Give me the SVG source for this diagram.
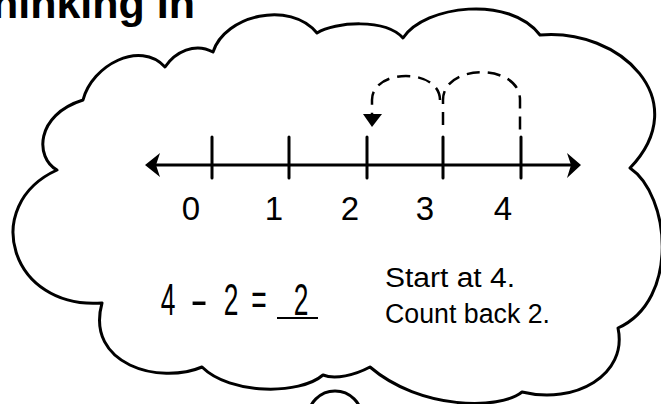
<svg xmlns="http://www.w3.org/2000/svg" width="661" height="404" viewBox="0 0 661 404">
<style>
.ink{fill:none;stroke:#000;stroke-width:3;stroke-linecap:round;stroke-linejoin:round}
.dash{fill:none;stroke:#000;stroke-width:2.5;stroke-dasharray:13 8}
.num{font-family:"Liberation Sans",Arial,sans-serif;font-size:33px;fill:#000;text-anchor:middle}
.note{font-family:"Liberation Sans",Arial,sans-serif;font-size:27px;fill:#000}
.eq{font-family:"Liberation Sans",Arial,sans-serif;font-size:44px;fill:#000;text-anchor:middle}
</style>
<rect width="661" height="404" fill="#fff"/>
<text x="195" y="18" font-family="Liberation Sans,Arial,sans-serif" font-weight="bold" font-size="43" text-anchor="end" fill="#000">Thinking In</text>
<g id="cloud">
<path class="ink" d="M57,170 C35,158 35,115 83,100 C92,65 140,40 165,67 C175,52 195,42 213,52 C225,15 290,0 317,33 C335,22 385,18 403,38 C425,5 510,-5 540,35 C620,28 695,100 630,168 C670,195 680,300 618,328 C628,375 575,405 522,392 C500,410 420,410 370,367 C355,375 335,380 323,375 C300,395 230,395 202,367 C160,385 85,365 102,303 C10,310 -20,205 57,170 Z"/>
<circle class="ink" cx="335" cy="418" r="27"/>
</g>
<g id="number-line">
<line class="ink" x1="152" y1="165" x2="574" y2="165"/>
<polygon points="145,165 160,153 156,165 160,177" fill="#000"/>
<polygon points="581,165 567,153 571,165 567,178" fill="#000"/>
<g class="ink">
<line x1="212" y1="137" x2="212" y2="178"/>
<line x1="289" y1="137" x2="289" y2="178"/>
<line x1="367" y1="137" x2="367" y2="178"/>
<line x1="443" y1="137" x2="443" y2="178"/>
<line x1="521" y1="137" x2="521" y2="178"/>
</g>
<text class="num" x="191" y="220">0</text>
<text class="num" x="274" y="220">1</text>
<text class="num" x="350" y="220">2</text>
<text class="num" x="425" y="220">3</text>
<text class="num" x="503" y="220">4</text>
</g>
<g id="connectors">
<path class="dash" d="M443,125 L443,100 C443,63 520,63 520,100 L520,130"/>
<path class="dash" d="M440,100 C440,68 372,68 372,100 L372,114"/>
<polygon points="363,114 382,114 372,127" fill="#000"/>
</g>
<g id="equation">
<text class="eq" transform="translate(168,315) scale(0.6,1)">4</text>
<text class="eq" transform="translate(199,315) scale(1.2,1)">-</text>
<text class="eq" transform="translate(231,315) scale(0.6,1)">2</text>
<text class="eq" transform="translate(259,315) scale(0.6,1)">=</text>
<text class="eq" transform="translate(301,315) scale(0.6,1)">2</text>
<line x1="277" y1="318" x2="318" y2="318" stroke="#000" stroke-width="2"/>
</g>
<g id="instructions">
<text class="note" x="385" y="287" textLength="130" lengthAdjust="spacingAndGlyphs">Start at 4.</text>
<text class="note" x="385" y="323" textLength="165" lengthAdjust="spacingAndGlyphs">Count back 2.</text>
</g>
</svg>
